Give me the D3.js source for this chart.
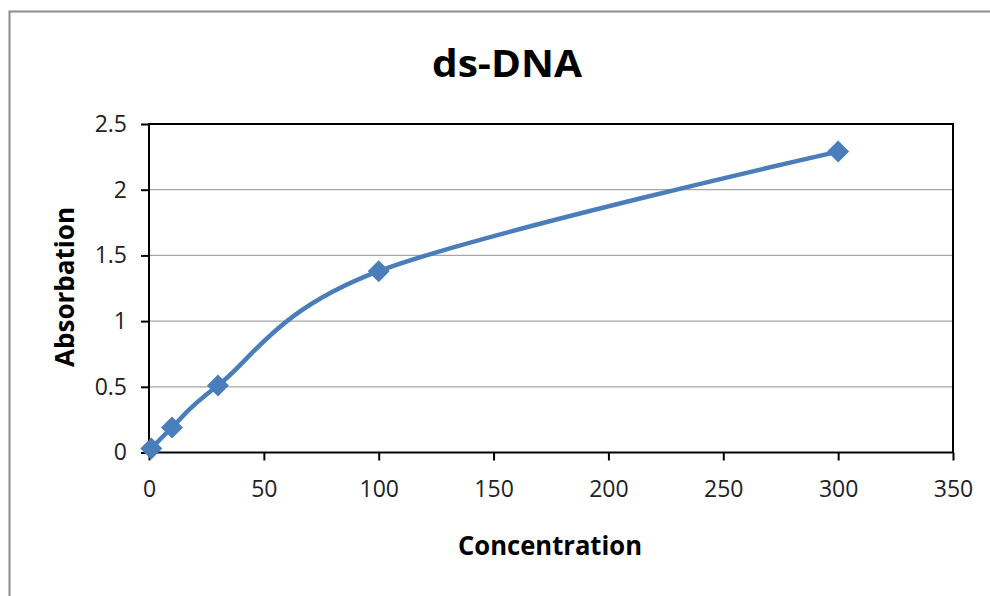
<!DOCTYPE html>
<html>
<head>
<meta charset="utf-8">
<script src="https://cdn.jsdelivr.net/npm/d3@7"></script>
<style>
  html, body { margin: 0; padding: 0; background: #fff; }
  svg { display: block; }
  .tick text { font-family: 'Open Sans', sans-serif; font-size: 23px; fill: #222; }
</style>
</head>
<body>
<div id="chart"></div>
<script>
// chart data
const concentration = [1, 10, 30, 100, 300];
const absorbation = [0.03, 0.19, 0.51, 1.38, 2.29];
const xTicks = [0, 50, 100, 150, 200, 250, 300, 350];
const yTicks = [0, 0.5, 1, 1.5, 2, 2.5];
const chartTitle = 'ds-DNA';
const xTitle = 'Concentration';
const yTitle = 'Absorbation';

const width = 990, height = 596;
const plot = { left: 149, right: 953, top: 124, bottom: 452.5 };
const blue = '#4a7ebb';

const svg = d3.select('#chart')
  .append('svg')
  .attr('width', width)
  .attr('height', height);

// outer chart border (runs off the right and bottom edge)
svg.append('rect')
  .attr('x', 9.5).attr('y', 11.5)
  .attr('width', 1000).attr('height', 620)
  .attr('fill', 'none')
  .attr('stroke', '#8c8c8c')
  .attr('stroke-width', 2);

const x = d3.scaleLinear().domain([0, 350]).range([plot.left, plot.right]);
const y = d3.scaleLinear().domain([0, 2.5]).range([plot.bottom, plot.top]);

// horizontal grid lines
svg.append('g')
  .selectAll('line')
  .data(yTicks.slice(1, -1))
  .enter().append('line')
  .attr('x1', plot.left).attr('x2', plot.right)
  .attr('y1', d => y(d)).attr('y2', d => y(d))
  .attr('stroke', '#a6a6a6')
  .attr('stroke-width', 1.3);

// x axis
const xAxis = svg.append('g')
  .attr('transform', 'translate(0,' + plot.bottom + ')')
  .call(d3.axisBottom(x).tickValues(xTicks).tickSize(8).tickPadding(20).tickFormat(d3.format('')));
xAxis.select('.domain').remove();
xAxis.selectAll('.tick line').attr('stroke', '#000').attr('stroke-width', 2);

// y axis
const yAxis = svg.append('g')
  .attr('transform', 'translate(' + plot.left + ',0)')
  .call(d3.axisLeft(y).tickValues(yTicks).tickSize(8).tickPadding(14).tickFormat(d3.format('')));
yAxis.select('.domain').remove();
yAxis.selectAll('.tick line').attr('stroke', '#000').attr('stroke-width', 2);

// plot frame
svg.append('rect')
  .attr('x', plot.left).attr('y', plot.top)
  .attr('width', plot.right - plot.left)
  .attr('height', plot.bottom - plot.top)
  .attr('fill', 'none')
  .attr('stroke', '#000')
  .attr('stroke-width', 2);

const points = concentration.map((c, i) => ({ c: c, a: absorbation[i] }));

// smoothed line like the spreadsheet one
const line = d3.line()
  .x(d => x(d.c))
  .y(d => y(d.a))
  .curve(d3.curveCardinal.tension(0));

svg.append('path')
  .datum(points)
  .attr('d', line)
  .attr('fill', 'none')
  .attr('stroke', blue)
  .attr('stroke-width', 4.5)
  .attr('stroke-linejoin', 'round');

// diamond markers
svg.append('g')
  .selectAll('path')
  .data(points)
  .enter().append('path')
  .attr('transform', d => 'translate(' + x(d.c) + ',' + y(d.a) + ')')
  .attr('d', 'M0,-11L11,0L0,11L-11,0Z')
  .attr('fill', blue);

// titles
svg.append('text')
  .attr('x', 507).attr('y', 77)
  .attr('text-anchor', 'middle')
  .attr('textLength', 150).attr('lengthAdjust', 'spacingAndGlyphs')
  .style('font-family', "'Open Sans', sans-serif")
  .style('font-weight', 'bold')
  .style('font-size', '37px')
  .text(chartTitle);

svg.append('text')
  .attr('x', 550).attr('y', 555)
  .attr('text-anchor', 'middle')
  .attr('textLength', 184).attr('lengthAdjust', 'spacingAndGlyphs')
  .style('font-family', "'Open Sans', sans-serif")
  .style('font-weight', 'bold')
  .style('font-size', '27px')
  .text(xTitle);

svg.append('text')
  .attr('transform', 'translate(74,287) rotate(-90)')
  .attr('text-anchor', 'middle')
  .attr('textLength', 160).attr('lengthAdjust', 'spacingAndGlyphs')
  .style('font-family', "'Open Sans', sans-serif")
  .style('font-weight', 'bold')
  .style('font-size', '27px')
  .text(yTitle);
</script>
</body>
</html>
